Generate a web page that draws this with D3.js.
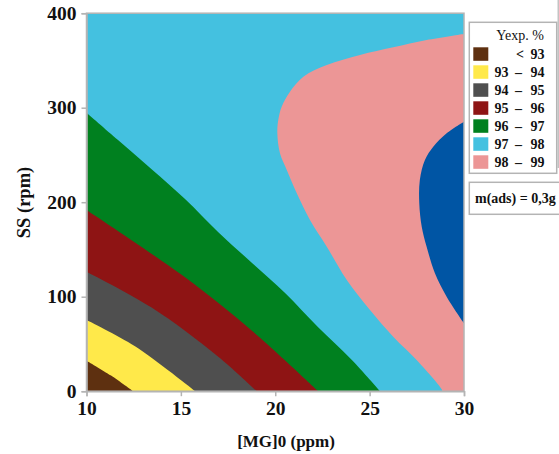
<!DOCTYPE html>
<html>
<head>
<meta charset="utf-8">
<script src="https://cdn.jsdelivr.net/npm/d3@7/dist/d3.min.js"></script>
<style>
  html, body { margin: 0; padding: 0; background: #fff; }
  svg { display: block; }
  text { font-family: "Liberation Serif", "Times New Roman", serif; fill: #111; }
</style>
</head>
<body>
<svg id="chart" width="559" height="454"></svg>
<script>
// ---- data (x = [MG]0 ppm, y = SS rpm) ----
const xTicks = [10, 15, 20, 25, 30];
const yTicks = [0, 100, 200, 300, 400];
const legendLabels = [["", "< 93"], ["93", "94"], ["94", "95"], ["95", "96"], ["96", "97"], ["97", "98"], ["98", "99"]];
const levelColors = ["#5e3010", "#ffe94a", "#4f4f4f", "#8e1414", "#00801f", "#44c1e0", "#ec9696", "#0055a4"];
// iso-lines, each from left/top to bottom
const iso93 = [[10, 32.3], [11.3, 16.5], [12.46, 0]];
const iso94 = [[10, 75.3], [12.57, 47.5], [15.75, 0]];
const iso95 = [[10, 126.5], [13.45, 88.5], [16.98, 36.5], [19.02, 0]];
const iso96 = [[10, 191.7], [15.22, 120.5], [18.75, 64.3], [22.28, 0]];
const iso97 = [[10, 294.7], [11.67, 265.8], [13.45, 235], [15.22, 203.5], [16.97, 168.5], [18.77, 135.7], [20.52, 103.9], [22.26, 67.9], [24.06, 33], [25.55, 0]];
const iso98 = [[30, 378], [28.02, 371.6], [26.25, 363.9], [24.49, 355.8], [22.73, 345.2], [21.49, 332.8], [20.78, 316.9], [20.34, 301.1], [20.16, 287], [20.11, 272.9], [20.25, 251.7], [20.61, 234.1], [21.14, 209.4], [21.84, 181.2], [22.73, 152.9], [23.79, 117.7], [25.02, 85.9], [26.25, 57.7], [27.49, 33], [28.82, 2], [28.85, 0]];
const iso99 = [[30, 285.2], [29.08, 272.9], [28.37, 258.7], [27.93, 244.7], [27.66, 223.5], [27.63, 198.8], [27.76, 174.1], [28.02, 152.9], [28.46, 124.8], [29.08, 100], [30, 71.9]];
const noteText = "m(ads) = 0,3g";

// ---- layout ----
const svg = d3.select("#chart");
const X0 = 86.5, X1 = 464, Y0 = 391.2, Y1 = 13.2;
const x = d3.scaleLinear().domain([10, 30]).range([X0, X1]);
const y = d3.scaleLinear().domain([0, 400]).range([Y0, Y1]);

svg.append("defs").append("clipPath").attr("id", "plotclip")
  .append("rect").attr("x", X0).attr("y", Y1).attr("width", X1 - X0).attr("height", Y0 - Y1);

const plot = svg.append("g").attr("clip-path", "url(#plotclip)");
const line = d3.line().x(d => x(d[0])).y(d => y(d[1])).curve(d3.curveCatmullRom.alpha(0.5));

// background: 97 - 98
plot.append("rect").attr("x", X0).attr("y", Y1).attr("width", X1 - X0).attr("height", Y0 - Y1)
  .attr("fill", levelColors[5]);

// lower-left bands: each region lies below its iso-line
const lowerBands = [[iso97, 4], [iso96, 3], [iso95, 2], [iso94, 1], [iso93, 0]];
lowerBands.forEach(([iso, ci]) => {
  const p = line(iso) + "L" + x(10) + "," + y(0) + "Z";
  plot.append("path").attr("d", p).attr("fill", levelColors[ci]);
});

// 98 - 99 region (closed along right edge)
plot.append("path")
  .attr("d", line(iso98) + "L" + x(30) + "," + y(0) + "L" + x(30) + "," + y(378) + "Z")
  .attr("fill", levelColors[6]);
// > 99 region
plot.append("path")
  .attr("d", line(iso99) + "Z")
  .attr("fill", levelColors[7]);

// frame
svg.append("rect").attr("x", X0).attr("y", Y1).attr("width", X1 - X0).attr("height", Y0 - Y1)
  .attr("fill", "none").attr("stroke", "#b4b4b4").attr("stroke-width", 1.5);

// axes
const xAxis = d3.axisBottom(x).tickValues(xTicks).tickSize(5).tickPadding(4).tickFormat(d3.format("d"));
const yAxis = d3.axisLeft(y).tickValues(yTicks).tickSize(5).tickPadding(5).tickFormat(d3.format("d"));
const gx = svg.append("g").attr("transform", `translate(0,${Y0})`).call(xAxis);
const gy = svg.append("g").attr("transform", `translate(${X0},0)`).call(yAxis);
[gx, gy].forEach(g => {
  g.select(".domain").attr("stroke", "#b4b4b4").attr("stroke-width", 1.5);
  g.selectAll(".tick line").attr("stroke", "#b4b4b4").attr("stroke-width", 1.5);
  g.selectAll(".tick text").attr("font-family", "Liberation Serif, serif")
    .attr("font-weight", "bold").attr("font-size", 19.5).attr("fill", "#111");
});
gx.selectAll(".tick text").attr("dy", "0.76em");

// axis titles
svg.append("text").attr("x", 286).attr("y", 446.5).attr("text-anchor", "middle")
  .attr("font-weight", "bold").attr("font-size", 17).text("[MG]0 (ppm)");
svg.append("text").attr("transform", "translate(30,202.5) rotate(-90)").attr("text-anchor", "middle")
  .attr("font-weight", "bold").attr("font-size", 18.5).text("SS (rpm)");

// legend
const lg = svg.append("g");
lg.append("rect").attr("x", 469.3).attr("y", 22.3).attr("width", 87.4).attr("height", 151)
  .attr("fill", "#fff").attr("stroke", "#b4b4b4").attr("stroke-width", 1.5);
lg.append("text").attr("x", 520).attr("y", 39.5).attr("text-anchor", "middle")
  .attr("font-size", 14).text("Yexp. %");
legendLabels.forEach((lab, i) => {
  const top = 47.3 + i * 18;
  lg.append("rect").attr("x", 473.3).attr("y", top).attr("width", 15).attr("height", 13.5)
    .attr("fill", levelColors[i]);
  const base = top + 11.5;
  if (lab[0] === "") {
    const parts = lab[1].split(" ");
    lg.append("text").attr("x", 520).attr("y", base).attr("text-anchor", "middle")
      .attr("font-weight", "bold").attr("font-size", 14).text(parts[0]);
    lg.append("text").attr("x", 544.5).attr("y", base).attr("text-anchor", "end")
      .attr("font-weight", "bold").attr("font-size", 14).text(parts[1]);
  } else {
    lg.append("text").attr("x", 494.5).attr("y", base)
      .attr("font-weight", "bold").attr("font-size", 14).text(lab[0]);
    lg.append("text").attr("x", 518.5).attr("y", base).attr("text-anchor", "middle")
      .attr("font-weight", "bold").attr("font-size", 14).text("–");
    lg.append("text").attr("x", 544.5).attr("y", base).attr("text-anchor", "end")
      .attr("font-weight", "bold").attr("font-size", 14).text(lab[1]);
  }
});

// note box
svg.append("rect").attr("x", 469.3).attr("y", 182.3).attr("width", 100).attr("height", 32)
  .attr("fill", "#fff").attr("stroke", "#b4b4b4").attr("stroke-width", 1.5);
svg.append("text").attr("x", 475).attr("y", 203).attr("font-weight", "bold").attr("font-size", 14)
  .text(noteText);

// right frame line
svg.append("line").attr("x1", 558.2).attr("x2", 558.2).attr("y1", 0).attr("y2", 168)
  .attr("stroke", "#b4b4b4").attr("stroke-width", 1.2);
</script>
</body>
</html>
